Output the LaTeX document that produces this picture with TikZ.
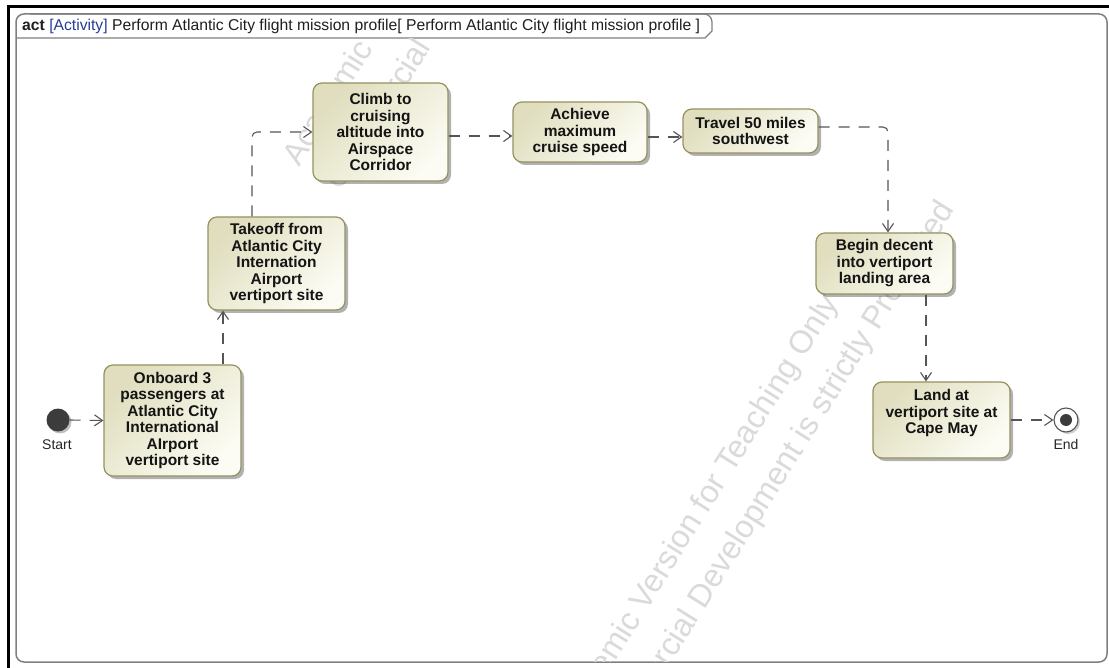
\documentclass[tikz,border=0pt]{standalone}
\usepackage{fontspec}
\setmainfont{Liberation Sans}
\usetikzlibrary{arrows.meta,shadows,calc}
\definecolor{actdark}{RGB}{224,222,190}
\definecolor{actlight}{RGB}{252,252,244}
\definecolor{actborder}{RGB}{150,146,96}
\definecolor{flowgray}{RGB}{85,85,85}
\definecolor{framegray}{RGB}{128,128,128}
\definecolor{wmgray}{RGB}{218,218,218}
\definecolor{hdrblue}{RGB}{40,60,150}
\definecolor{nodegray}{RGB}{60,60,60}
\begin{document}
\begin{tikzpicture}[x=1pt,y=-1pt,
  action/.style={rectangle, rounded corners=9pt, draw=actborder, line width=1.2pt,
    top color=actdark, bottom color=actlight, shading angle=45,
    drop shadow={shadow xshift=3pt, shadow yshift=-3pt, opacity=0.3, fill=black},
    align=center, font=\fontsize{15.5}{16.5}\selectfont\bfseries, text=black!92, inner sep=0pt},
  flow/.style={draw=flowgray, line width=1.1pt, dash pattern=on 11pt off 9pt,
    -{Straight Barb[length=8pt,width=11pt]}},
  lbl/.style={font=\fontsize{14}{16}\selectfont, text=black!85, inner sep=0pt},
  wm/.style={font=\fontsize{32}{38}\selectfont, text=wmgray, inner sep=0pt, anchor=base west, rotate=58},
]
\useasboundingbox (0,0) rectangle (1109,668);
\fill[white] (0,0) rectangle (1109,668);
% outer screenshot border
\draw[black, line width=3pt] (8,668) -- (8,6.5) -- (1109,6.5);
% diagram frame
\draw[framegray, line width=1.5pt, rounded corners=8pt, fill=white] (16,14) rectangle (1107,662);
\draw[framegray, line width=1.2pt] (16,38) -- (705,38) -- (712,31) -- (712,22) arc[start angle=0, end angle=-90, radius=8] -- (30,14);
\node[anchor=base west, inner sep=0pt, font=\fontsize{15.7}{18}\selectfont, text=black!88] (hdr) at (22,31)
  {\textbf{act} {\color{hdrblue}[Activity]} Perform Atlantic City flight mission profile[ Perform Atlantic City flight mission profile ]};
% watermark
\begin{scope}
\clip (17,39) rectangle (1106,661);
\node[wm] (wmA1) at (567,739) {Academic Version for Teaching Only};
\node[wm] (wmA2) at (609,763) {Commercial Development is strictly Prohibited};
\node[wm] (wmB1) at (299,168) {Academic Version for Teaching Only};
\node[wm] (wmB2) at (341,192) {Commercial Development is strictly Prohibited};
\end{scope}
% actions
\node[action, minimum width=137pt, minimum height=111pt] (onboard) at (172.5,420.5)
  {Onboard 3\\passengers at\\Atlantic City\\International\\AIrport\\vertiport site};
\node[action, minimum width=137pt, minimum height=93pt] (takeoff) at (276.5,263.5)
  {Takeoff from\\Atlantic City\\Internation\\Airport\\vertiport site};
\node[action, minimum width=135pt, minimum height=98pt] (climb) at (380.5,132)
  {Climb to\\cruising\\altitude into\\Airspace\\Corridor};
\node[action, minimum width=134pt, minimum height=60pt] (achieve) at (580,132)
  {Achieve\\maximum\\cruise speed};
\node[action, minimum width=135pt, minimum height=44pt] (travel) at (750.5,131)
  {Travel 50 miles\\southwest};
\node[action, minimum width=137pt, minimum height=61pt] (begin) at (884.5,263.5)
  {Begin decent\\into vertiport\\landing area};
\node[action, minimum width=137pt, minimum height=76pt] (land) at (941.5,420)
  {Land at\\vertiport site at\\Cape May\\\mbox{}};
% initial and final nodes
\node[circle, fill=nodegray, minimum size=23pt, inner sep=0pt,
  drop shadow={shadow xshift=2pt, shadow yshift=-2pt, opacity=0.25, fill=black}] (start) at (58,420) {};
\node[lbl] (startlbl) at (57,445) {Start};
\node[circle, draw=flowgray, line width=1.1pt, fill=white, minimum size=24pt, inner sep=0pt,
  drop shadow={shadow xshift=2pt, shadow yshift=-2pt, opacity=0.2, fill=black}] (end) at (1066,420) {};
\node[circle, fill=nodegray, minimum size=12pt, inner sep=0pt] (enddot) at (end.center) {};
\node[lbl] (endlbl) at (1066,444) {End};
% flows
\draw[flow] (start.east) -- (onboard.west);
\draw[flow] ([xshift=50.5pt]onboard.north) -- ([xshift=-53.5pt]takeoff.south);
\draw[flow, rounded corners=5pt] ([xshift=-24.5pt]takeoff.north) |- (climb.west);
\draw[flow] ([yshift=-4pt]climb.east) -- ([yshift=-4pt]achieve.west);
\draw[flow] ([yshift=-5pt]achieve.east) -- ([yshift=-6pt]travel.west);
\draw[flow, rounded corners=5pt] ([yshift=4pt]travel.east) -| ([xshift=3.5pt]begin.north);
\draw[flow] ([xshift=41.5pt]begin.south) -- ([xshift=-15.5pt]land.north);
\draw[flow] (land.east) -- (end.west);
\end{tikzpicture}
\end{document}
